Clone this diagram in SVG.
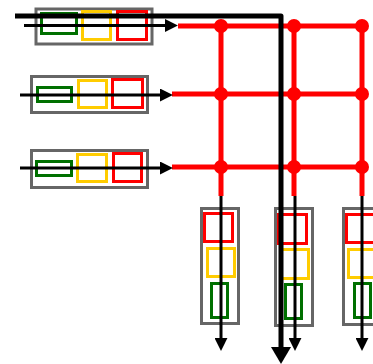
<svg xmlns="http://www.w3.org/2000/svg" width="373" height="364" viewBox="0 0 373 364">
<defs>
<style>
.box{fill:#fff;stroke:#666;stroke-width:3}
.g{fill:none;stroke:#007000;stroke-width:3}
.y{fill:none;stroke:#FFCC00;stroke-width:3}
.r{fill:none;stroke:#FF0000;stroke-width:3}
.red{fill:none;stroke:#FF0000;stroke-width:5}
.dot{fill:#FF0000}
.arr{fill:none;stroke:#000;stroke-width:3;marker-end:url(#ah)}
.thick{fill:none;stroke:#000;stroke-width:5;stroke-linejoin:round;marker-end:url(#ahBig)}
</style>
<marker id="ah" markerUnits="userSpaceOnUse" markerWidth="13" markerHeight="13" viewBox="0 0 12 12" refX="1" refY="6" orient="auto">
<path d="M0,0 L12,6 L0,12 Z" fill="#000"/>
</marker>
<marker id="ahBig" markerUnits="userSpaceOnUse" markerWidth="20" markerHeight="20" viewBox="0 0 17 20" refX="1" refY="10" orient="auto">
<path d="M0,0 L17,10 L0,20 Z" fill="#000"/>
</marker>
</defs>
<g id="row1">
<rect class="box" x="36" y="9" width="116" height="35"/>
<rect class="g" x="41.5" y="13.5" width="35" height="20"/>
<rect class="y" x="82.5" y="11.5" width="28" height="28"/>
<rect class="r" x="117.5" y="11.5" width="29" height="28"/>
</g>
<g id="row2">
<rect class="box" x="31.5" y="76.5" width="116" height="36"/>
<rect class="g" x="37.5" y="87.5" width="34" height="14"/>
<rect class="y" x="78.5" y="80.5" width="28" height="27"/>
<rect class="r" x="112.5" y="79.5" width="30" height="28"/>
</g>
<g id="row3">
<rect class="box" x="31.5" y="150.5" width="116" height="37"/>
<rect class="g" x="36.5" y="161.5" width="35" height="14"/>
<rect class="y" x="77.5" y="154.5" width="29" height="27"/>
<rect class="r" x="113.5" y="153.5" width="28" height="28"/>
</g>
<g id="col1">
<rect class="box" x="201.5" y="208.5" width="37" height="115"/>
<rect class="r" x="204.5" y="213.5" width="28" height="28"/>
<rect class="y" x="207.5" y="248.5" width="27" height="28"/>
<rect class="g" x="211.5" y="283.5" width="16" height="34"/>
</g>
<g id="col2">
<rect class="box" x="275.5" y="208.5" width="37" height="117"/>
<rect class="r" x="278.5" y="214.5" width="28" height="29"/>
<rect class="y" x="281.5" y="249.5" width="27" height="29"/>
<rect class="g" x="285.5" y="284.5" width="16" height="34"/>
</g>
<g id="col3">
<rect class="box" x="343.5" y="208.5" width="37" height="116"/>
<rect class="r" x="346.5" y="214.5" width="28" height="28"/>
<rect class="y" x="348.5" y="249.5" width="27" height="28"/>
<rect class="g" x="354.5" y="283.5" width="16" height="34"/>
</g>
<g id="grid">
<path class="red" d="M178 26H362M172 94H362M172 167H362M221 26V196M294 26V196M362 26V196"/>
<circle class="dot" cx="221" cy="26" r="7"/>
<circle class="dot" cx="294" cy="26" r="7"/>
<circle class="dot" cx="362" cy="26" r="7"/>
<circle class="dot" cx="221" cy="94" r="7"/>
<circle class="dot" cx="294" cy="94" r="7"/>
<circle class="dot" cx="362" cy="94" r="7"/>
<circle class="dot" cx="221" cy="167" r="7"/>
<circle class="dot" cx="294" cy="167" r="7"/>
<circle class="dot" cx="362" cy="167" r="7"/>
</g>
<g id="connectors">
<path class="arr" d="M24 25.5H166"/>
<path class="arr" d="M20 95H161"/>
<path class="arr" d="M20 168H161"/>
<path class="arr" d="M221 196V339"/>
<path class="arr" d="M295 196V339"/>
<path class="arr" d="M362 196V339"/>
<path class="thick" d="M15 16H281V348"/>
</g>
</svg>
